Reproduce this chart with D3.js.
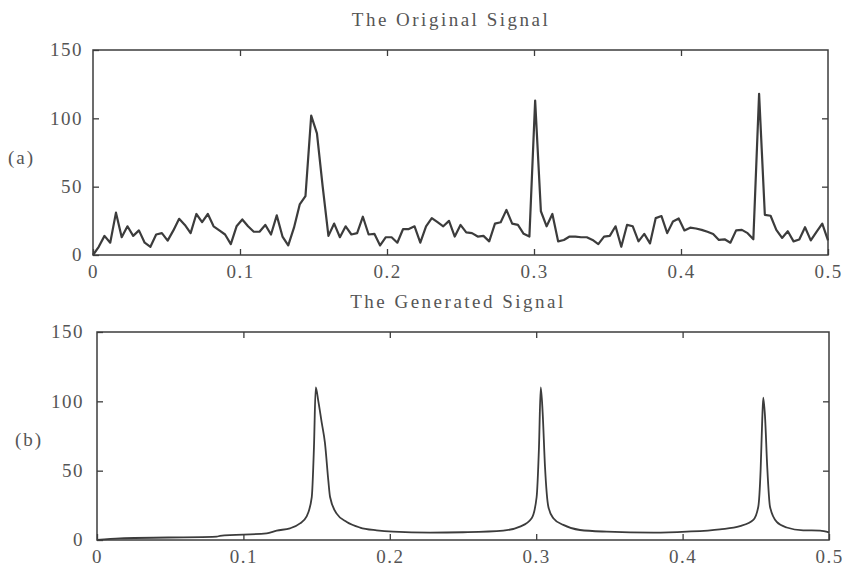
<!DOCTYPE html>
<html>
<head>
<meta charset="utf-8">
<script src="https://cdn.jsdelivr.net/npm/d3@7"></script>
<style>
  html, body { margin: 0; padding: 0; background: #fff; }
  svg { display: block; }
</style>
</head>
<body>
<svg id="chart" width="843" height="568"></svg>
<script>
// ---------------- DATA ----------------
const xTicks = [0, 0.1, 0.2, 0.3, 0.4, 0.5];
const xTickLabels = ["0", "0.1", "0.2", "0.3", "0.4", "0.5"];
const yTicks = [0, 50, 100, 150];
const yTickLabels = ["0", "50", "100", "150"];
const titles = ["The Original Signal", "The Generated Signal"];
const panelTags = ["(a)", "(b)"];

// Original signal: 129 spectrum samples, frequency step 1/256
const origStep = 1 / 256;
const origValues = [
  0, 6, 14, 9, 31, 13, 21, 14, 18, 9,
  6, 15, 16, 10.5, 18, 26.5, 22, 16, 30, 24,
  30, 21, 18, 15, 8, 21, 26, 21, 17, 17,
  22, 15, 29, 13.5, 7, 20, 37, 43, 102, 89,
  50, 14, 23, 13, 21, 15, 16, 28, 15, 15.5,
  7, 13, 13, 9, 19, 19, 21, 9, 21, 27,
  24, 21, 25, 13.5, 22, 16.5, 16, 13.5, 14, 10,
  23, 24, 33, 23, 22, 15.5, 13.5, 113, 32, 21,
  30, 10, 11, 13.5, 13.5, 13, 13, 11, 8, 13.5,
  14, 21, 6, 22, 21, 10, 15.5, 8.5, 27, 28.5,
  16, 24.5, 26.7, 18, 20, 19.4, 18.4, 17, 15.4, 11,
  11.5, 9, 18, 18.4, 16, 11.5, 118, 29.4, 28.7, 18.4,
  12.5, 17.4, 10, 11.3, 20.3, 10.7, 17, 23, 10.7
];

// Generated signal: smooth spectrum read at key frequencies
const genFreq = [
  0, 0.0157, 0.0818, 0.084, 0.1159, 0.1227, 0.1318, 0.1387, 0.1432, 0.1467,
  0.1482, 0.1494, 0.1512, 0.1535, 0.1557, 0.158, 0.1592, 0.1637, 0.1706, 0.1796,
  0.191, 0.2022, 0.2275, 0.25, 0.2775, 0.2889, 0.2969, 0.3003, 0.3019, 0.3031,
  0.3044, 0.306, 0.3083, 0.3117, 0.3185, 0.3299, 0.3482, 0.38, 0.4028, 0.4255,
  0.4392, 0.4483, 0.4517, 0.4533, 0.4544, 0.4551, 0.4563, 0.4578, 0.4597, 0.4643,
  0.4711, 0.4824, 0.4939, 0.5
];
const genValues = [
  0, 1.2, 2.4, 3, 4.8, 6.8, 8.4, 12, 17, 31,
  67, 110, 100, 84.6, 70, 43, 31, 19, 13, 9,
  7, 6, 5.3, 5.6, 6.8, 9.6, 15.7, 31, 67, 110,
  92, 53, 24, 15.7, 10.9, 7.2, 6, 5.3, 6, 7.7,
  10, 14.5, 24, 50.7, 87, 102.7, 89, 53, 24, 13,
  9, 7, 6.8, 5.5
];

// ---------------- DRAW ----------------
const svg = d3.select("#chart");
const FONT = "'Liberation Serif', 'DejaVu Serif', serif";
const TEXT = "#555";
const INK = "#3c3c3c";

const panels = [
  { x0: 93, x1: 828, yb: 255, yt: 50, titleX: 451, titleY: 26, tagX: 8, tagY: 158,
    data: origValues.map((v, i) => [i * origStep, v]), curve: d3.curveLinear, lw: 2.2, ypad: 10 },
  { x0: 97, x1: 829, yb: 540, yt: 332, titleX: 458, titleY: 308, tagX: 15, tagY: 440,
    data: genFreq.map((f, i) => [f, genValues[i]]), curve: d3.curveMonotoneX, lw: 1.8, ypad: 13 }
];

panels.forEach((p, k) => {
  const x = d3.scaleLinear().domain([0, 0.5]).range([p.x0, p.x1]);
  const y = d3.scaleLinear().domain([0, 150]).range([p.yb, p.yt]);
  const g = svg.append("g");

  // axes with inward ticks
  const fmtX = d => xTickLabels[xTicks.indexOf(d)];
  const fmtY = d => yTickLabels[yTicks.indexOf(d)];

  const ax = g.append("g").attr("transform", `translate(0,${p.yb})`)
    .call(d3.axisBottom(x).tickValues(xTicks).tickFormat(fmtX).tickSizeInner(-6).tickSizeOuter(0).tickPadding(9.5));
  const axTop = g.append("g").attr("transform", `translate(0,${p.yt})`)
    .call(d3.axisTop(x).tickValues(xTicks.slice(1, -1)).tickFormat("").tickSizeInner(-6).tickSizeOuter(0));
  const ay = g.append("g").attr("transform", `translate(${p.x0},0)`)
    .call(d3.axisLeft(y).tickValues(yTicks).tickFormat(fmtY).tickSizeInner(-6).tickSizeOuter(0).tickPadding(p.ypad));
  const ayR = g.append("g").attr("transform", `translate(${p.x1},0)`)
    .call(d3.axisRight(y).tickValues(yTicks.slice(1, -1)).tickFormat("").tickSizeInner(-6).tickSizeOuter(0));

  [ax, axTop, ay, ayR].forEach(a => {
    a.select(".domain").remove();
    a.selectAll(".tick line").attr("stroke", INK).attr("stroke-width", 1.3);
    a.selectAll(".tick text")
      .attr("fill", TEXT)
      .style("font-family", FONT)
      .style("font-size", "19px")
      .style("letter-spacing", "1.5px");
  });
  ay.selectAll(".tick text").attr("dy", "0.3em");

  // frame
  g.append("rect")
    .attr("x", p.x0).attr("y", p.yt)
    .attr("width", p.x1 - p.x0).attr("height", p.yb - p.yt)
    .attr("fill", "none").attr("stroke", INK).attr("stroke-width", 1.5);

  // line
  const line = d3.line().x(d => x(d[0])).y(d => y(d[1])).curve(p.curve);
  g.append("path").datum(p.data)
    .attr("d", line)
    .attr("fill", "none")
    .attr("stroke", INK)
    .attr("stroke-width", p.lw)
    .attr("stroke-linejoin", "round");

  // title
  g.append("text")
    .attr("x", p.titleX).attr("y", p.titleY)
    .attr("text-anchor", "middle")
    .attr("fill", TEXT)
    .style("font-family", FONT).style("font-size", "19px").style("letter-spacing", "2.5px")
    .text(titles[k]);

  // panel tag
  g.append("text")
    .attr("x", p.tagX).attr("y", p.tagY)
    .attr("dy", "0.32em")
    .attr("fill", TEXT)
    .style("font-family", FONT).style("font-size", "19px").style("letter-spacing", "2px")
    .text(panelTags[k]);
});
</script>
</body>
</html>
